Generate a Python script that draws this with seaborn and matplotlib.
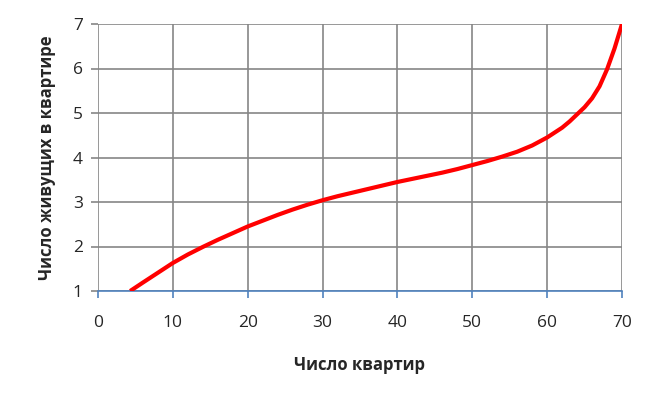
import pandas as pd
import matplotlib.pyplot as plt
import seaborn as sns

# Data
flats = [4.3, 6, 8, 10, 12, 14, 16, 18, 20, 22, 24, 26, 28, 30, 32, 34, 36, 38,
         40, 42, 44, 46, 48, 50, 52, 54, 56, 58, 60, 62, 63, 64, 65, 66, 67, 68, 69, 70]
residents = [1.0, 1.19, 1.41, 1.63, 1.82, 1.99, 2.15, 2.3, 2.45, 2.58, 2.71, 2.83, 2.94,
             3.04, 3.13, 3.21, 3.29, 3.37, 3.45, 3.52, 3.59, 3.66, 3.74, 3.83, 3.92,
             4.02, 4.13, 4.27, 4.45, 4.67, 4.81, 4.97, 5.13, 5.33, 5.6, 5.98, 6.45, 7.0]
x_ticks = [0, 10, 20, 30, 40, 50, 60, 70]
y_ticks = [1, 2, 3, 4, 5, 6, 7]

df = pd.DataFrame({"flats": flats, "residents": residents})

sns.set_style("white")
plt.rcParams["font.family"] = ["Open Sans", "DejaVu Sans"]

fig = plt.figure(figsize=(6.56, 4.03), dpi=100)
ax = fig.add_axes([98 / 656, 1 - 291 / 403, 524 / 656, 267 / 403])

sns.lineplot(data=df, x="flats", y="residents", color="red", linewidth=3, ax=ax,
             solid_capstyle="butt", zorder=3)

ax.set_xlim(0, 70)
ax.set_ylim(1, 7)
ax.set_xticks(x_ticks)
ax.set_yticks(y_ticks)
ax.grid(True, color="#868686", linewidth=1.2)
ax.set_axisbelow(True)

for side in ["top", "right", "left"]:
    ax.spines[side].set_visible(False)
ax.spines["bottom"].set_color("#4F81BD")
ax.spines["bottom"].set_linewidth(1.2)
ax.spines["bottom"].set_zorder(2)

ax.tick_params(axis="x", direction="out", length=5, width=1.2, color="#4F81BD",
               labelsize=12.5, pad=12, bottom=True)
ax.tick_params(axis="y", direction="out", length=5, width=1.2, color="#868686",
               labelsize=12.5, pad=6, left=True)

ax.set_xlabel("Число квартир", fontsize=12, fontweight="bold", labelpad=18)
ax.set_ylabel("Число живущих в квартире", fontsize=12, fontweight="bold", labelpad=12)

fig.savefig("out.png", dpi=100)
